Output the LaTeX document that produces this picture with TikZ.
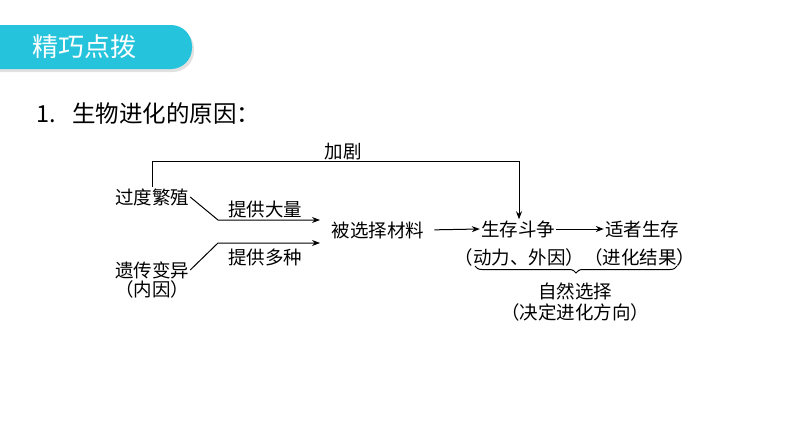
\documentclass[tikz,border=0pt]{standalone}
\usepackage{fontspec}
\setmainfont{Noto Sans CJK SC}
\usetikzlibrary{decorations.pathreplacing,arrows.meta}
\definecolor{bannercyan}{RGB}{38,196,220}
\definecolor{shadowgray}{RGB}{225,225,225}
\tikzset{
  lbl/.style={inner sep=1pt, font=\fontsize{18.5}{20}\selectfont},
  ln/.style={line width=1pt},
  arr/.style={ln, -{Stealth[length=8pt,width=6pt]}}
}
\begin{document}
\begin{tikzpicture}[x=1pt,y=-1pt]
\useasboundingbox (0,0) rectangle (794,447);
% banner
\fill[shadowgray, rounded corners=21] (-40,28) rectangle (194,72);
\fill[bannercyan, rounded corners=21] (-40,25) rectangle (192,69);
\node[text=white, font=\fontsize{26}{28}\selectfont] (hdr) at (84,47) {精巧点拨};
% title
\node[anchor=west, inner sep=0pt, font=\fontsize{23.5}{26}\selectfont] (title) at (36,114) {1.\hspace{0.7em}生物进化的原因：};
% nodes
\node[lbl] (gd) at (152,197) {过度繁殖};
\node[lbl] (yc) at (152,270) {遗传变异};
\node[lbl] (ny) at (152,289) {（内因）};
\node[lbl] (bx) at (378,230) {被选择材料};
\node[lbl] (sc) at (518,229) {生存斗争};
\node[lbl] (sz) at (642,229) {适者生存};
\node[lbl] (par) at (575,257) {（动力、外因）（进化结果）};
\node[lbl] (zr) at (575,291) {自然选择};
\node[lbl] (jd) at (575,312) {（决定进化方向）};
\node[lbl] (jj) at (343,152) {加剧};
\node[lbl] (tg1) at (265,209) {提供大量};
\node[lbl] (tg2) at (265,257) {提供多种};
% coordinates
\coordinate (c1) at (152,161);
\coordinate (c2) at (519,161);
\coordinate (k1) at (218,220);
\coordinate (e1) at (320,220);
\coordinate (k2) at (218,243);
\coordinate (e2) at (320,243);
\coordinate (b1) at (677,266);
\coordinate (b2) at (475,266);
% connectors
\draw[arr] (gd.north) -- (c1) -- (c2) -- (c2 |- sc.north);
\draw[arr] (gd.east) -- (k1) -- (e1);
\draw[arr] (yc.east) -- (k2) -- (e2);
\draw[arr, shorten <=9pt] (bx.east) -- (sc.west);
\draw[arr] (sc.east) -- (sz.west);
\draw[line width=1pt, decorate, decoration={brace, amplitude=7pt}] (b1) -- (b2);
\end{tikzpicture}
\end{document}
